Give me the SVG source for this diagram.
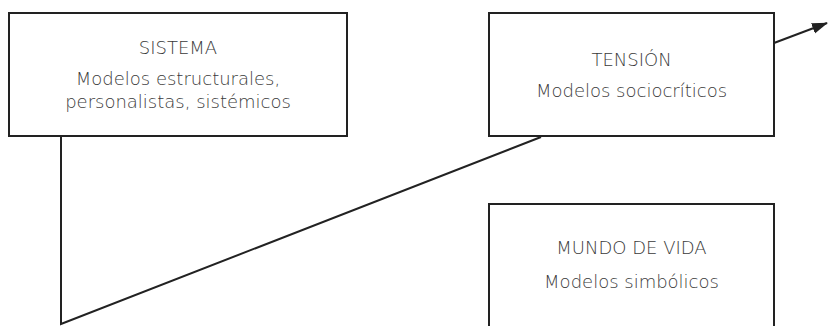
<svg xmlns="http://www.w3.org/2000/svg" width="829" height="326" viewBox="0 0 829 326">
<style>
.box{fill:#fff;stroke:#222;stroke-width:2}
.t{font-family:"DejaVu Sans","Liberation Sans",sans-serif;font-weight:200;font-size:18px;fill:#3a3a3a;text-anchor:middle}
.c{fill:none;stroke:#222;stroke-width:2}
</style>
<defs>
<marker id="ah" markerWidth="16" markerHeight="12" refX="15" refY="6" orient="auto" markerUnits="userSpaceOnUse" viewBox="0 0 16 12">
<path d="M0,0.5 L16,6 L0,11.5 Z" fill="#222"/>
</marker>
</defs>
<rect width="829" height="326" fill="#fff"/>
<g id="connectors">
<polyline class="c" points="61,137 61,324 541,137"/>
<line class="c" x1="774" y1="43" x2="827" y2="23" marker-end="url(#ah)"/>
</g>
<g id="sistema">
<rect class="box" x="9" y="13" width="338" height="123"/>
<text class="t" x="178" y="54">SISTEMA</text>
<text class="t" x="178" y="85">Modelos estructurales,</text>
<text class="t" x="178" y="108">personalistas, sistémicos</text>
</g>
<g id="tension">
<rect class="box" x="489" y="13" width="285" height="123"/>
<text class="t" x="631.5" y="66">TENSIÓN</text>
<text class="t" x="631.5" y="97">Modelos sociocríticos</text>
</g>
<g id="mundo">
<rect class="box" x="489" y="204" width="285" height="140"/>
<text class="t" x="631.5" y="254">MUNDO DE VIDA</text>
<text class="t" x="631.5" y="288">Modelos simbólicos</text>
</g>
</svg>
